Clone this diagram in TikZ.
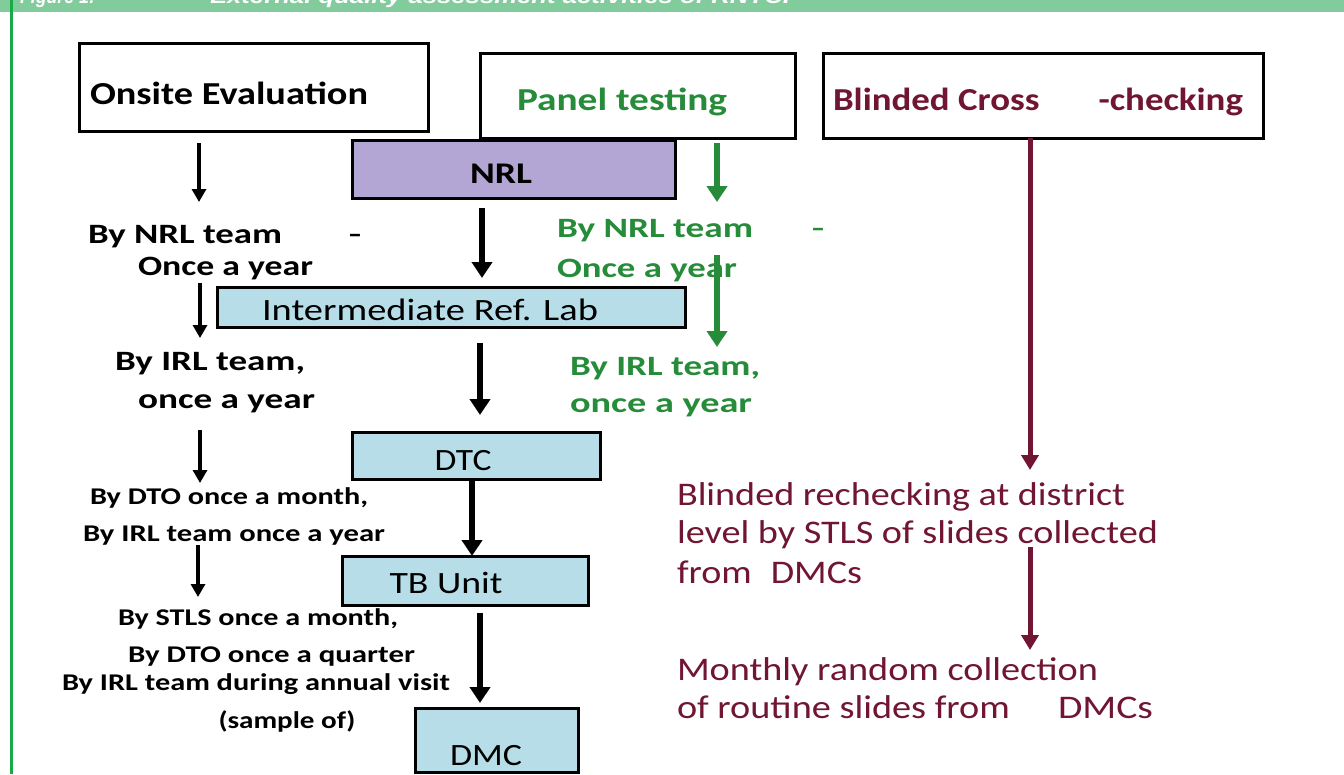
\documentclass[tikz,border=0pt]{standalone}
\usepackage{fontspec}
\usepackage{graphicx}
\setmainfont{Carlito}
\newfontfamily\hdrfont{Liberation Sans}
\usetikzlibrary{arrows.meta}
\definecolor{nrlpurple}{RGB}{180,166,212}
\definecolor{labblue}{RGB}{183,222,232}
\definecolor{ptgreen}{RGB}{38,140,58}
\definecolor{bcred}{RGB}{112,22,50}
\definecolor{bargreen}{RGB}{130,203,156}
\definecolor{edgegreen}{RGB}{25,170,70}
\newsavebox\fitbox
\newcommand\fitto[2]{\sbox\fitbox{#2}\pgfmathsetmacro\fitr{#1/\the\wd\fitbox}\scalebox{\fitr}[1]{\usebox\fitbox}}
\begin{document}
\begin{tikzpicture}[x={(1pt,0)}, y={(0,-1pt)},
  every node/.style={inner sep=0pt, outer sep=0pt},
  boxframe/.style={draw=black, line width=3pt},
  hdr/.style={font=\hdrfont\bfseries\itshape\fontsize{20}{22}\selectfont, text=white},
  titlef/.style={font=\bfseries\fontsize{32}{36}\selectfont},
  nrlf/.style={font=\bfseries\fontsize{30}{34}\selectfont},
  labf/.style={font=\fontsize{31}{34}\selectfont},
  bigl/.style={font=\bfseries\fontsize{28}{32}\selectfont},
  smalll/.style={font=\bfseries\fontsize{24}{28}\selectfont},
  grnl/.style={font=\bfseries\fontsize{28}{32}\selectfont, text=ptgreen},
  redl/.style={font=\fontsize{33}{36}\selectfont, text=bcred},
  lftarr/.style={line width=4.5pt, -{Triangle[width=14pt,length=13pt]}},
  ctrarr/.style={line width=6pt, -{Triangle[width=20pt,length=16pt]}},
  grnarr/.style={draw=ptgreen, line width=6pt, -{Triangle[width=20pt,length=16pt]}},
  redarr/.style={draw=bcred, line width=5pt, -{Triangle[width=17pt,length=15pt]}}]
\useasboundingbox (0,0) rectangle (1344,774);
\fill[white] (0,0) rectangle (1344,774);
% header bar
\fill[bargreen] (0,0) rectangle (1344,12);
\begin{scope}
\clip (0,0) rectangle (1344,12);
\node[hdr, anchor=base west] (fig) at (20,3.5) {\fitto{75}{Figure 1:}};
\node[hdr, anchor=base west] (figtitle) at (210,3.5) {\fitto{590}{External quality assessment activities of RNTCP}};
\end{scope}
\draw[edgegreen, line width=2.5pt] (11.5,0) -- (11.5,774);
% boxes
\node[boxframe, minimum width=349pt, minimum height=88pt] (onsite) at (253.5,87) {};
\node[boxframe, minimum width=315pt, minimum height=85pt] (panel) at (637.5,95.5) {};
\node[boxframe, minimum width=440pt, minimum height=85pt] (blind) at (1043,95.5) {};
\node[boxframe, fill=nrlpurple, minimum width=323pt, minimum height=58pt] (nrl) at (513.5,169) {};
\node[boxframe, fill=labblue, minimum width=468pt, minimum height=40pt] (irl) at (451,307) {};
\node[boxframe, fill=labblue, minimum width=248pt, minimum height=47pt] (dtc) at (476,455.5) {};
\node[boxframe, fill=labblue, minimum width=246pt, minimum height=49pt] (tbu) at (465,580.5) {};
\node[boxframe, fill=labblue, minimum width=163pt, minimum height=64pt] (dmc) at (496.5,740) {};
% box texts
\node[titlef, anchor=base west] (onsitet) at (90,104) {\fitto{278}{Onsite Evaluation}};
\node[titlef, text=ptgreen, anchor=base] (panelt) at (622,110) {\fitto{210}{Panel testing}};
\node[titlef, text=bcred, anchor=base west] (blindt) at (833,110) {\fitto{410}{Blinded Cross\hspace{1.6em}-checking}};
\node[nrlf, anchor=base] (nrlt) at (501,183) {\fitto{62}{NRL}};
\node[labf, anchor=base] (irlt) at (430,320) {\fitto{336}{Intermediate Ref. Lab}};
\node[labf, anchor=base] (dtct) at (463,470) {\fitto{57}{DTC}};
\node[labf, anchor=base] (tbut) at (446,593) {\fitto{113}{TB Unit}};
\node[labf, anchor=base] (dmct) at (486,765) {\fitto{72}{DMC}};
% left labels
\node[bigl, anchor=base] (l1) at (225,243) {\makebox[274pt][l]{\fitto{194}{By NRL team}\hfill --}};
\node[bigl, anchor=base] (l2) at (225.5,275) {\fitto{175}{Once a year}};
\node[bigl, anchor=base] (l3) at (210,370) {\fitto{190}{By IRL team,}};
\node[bigl, anchor=base] (l4) at (226.5,408) {\fitto{177}{once a year}};
\node[smalll, anchor=base] (l5) at (229,504) {\fitto{278}{By DTO once a month,}};
\node[smalll, anchor=base] (l6) at (234,541) {\fitto{302}{By IRL team once a year}};
\node[smalll, anchor=base] (l7) at (258,625) {\fitto{280}{By STLS once a month,}};
\node[smalll, anchor=base] (l8) at (271.5,662) {\fitto{287}{By DTO once a quarter}};
\node[smalll, anchor=base] (l9) at (256,690) {\fitto{388}{By IRL team during annual visit}};
\node[smalll, anchor=base] (l10) at (287,728) {\fitto{137}{(sample of)}};
% green labels
\node[grnl, anchor=base west] (g1) at (557,237) {\makebox[268pt][l]{\fitto{196}{By NRL team}\hfill --}};
\node[grnl, anchor=base west] (g2) at (557,277) {\fitto{180}{Once a year}};
\node[grnl, anchor=base west] (g3) at (570,375) {\fitto{190}{By IRL team,}};
\node[grnl, anchor=base west] (g4) at (570,412) {\fitto{182}{once a year}};
% red labels
\node[redl, anchor=base west] (r1) at (677,505) {\fitto{448}{Blinded rechecking at district}};
\node[redl, anchor=base west] (r2) at (677,543) {\fitto{481}{level by STLS of slides collected}};
\node[redl, anchor=base west] (r3) at (677,583) {\fitto{185}{from\hspace{0.5em}DMCs}};
\node[redl, anchor=base west] (r4) at (677,680) {\fitto{421}{Monthly random collection}};
\node[redl, anchor=base west] (r5) at (677,718) {\fitto{333}{of routine slides from}};
\node[redl, anchor=base west] (r5b) at (1058,718) {\fitto{95}{DMCs}};
% arrow end coordinates
\coordinate (a1e) at (199,202);
\coordinate (a2s) at (200,283); \coordinate (a2e) at (200,338);
\coordinate (a3s) at (200,430); \coordinate (a3e) at (200,483);
\coordinate (a4s) at (198,545); \coordinate (a4e) at (198,597);
\coordinate (b1e) at (482,278);
\coordinate (b2e) at (480,415);
\coordinate (b3x) at (472,0);
\coordinate (b4x) at (480,0);
\coordinate (gAe) at (717,202);
\coordinate (gBs) at (717,255); \coordinate (gBe) at (717,347);
\coordinate (rAe) at (1030,470);
\coordinate (rBs) at (1030,547); \coordinate (rBe) at (1030,650);
% arrows
\draw[lftarr, shorten <=12pt] (onsite.south -| a1e) -- (a1e);
\draw[lftarr] (a2s) -- (a2e);
\draw[lftarr] (a3s) -- (a3e);
\draw[lftarr] (a4s) -- (a4e);
\draw[ctrarr, shorten <=10pt] (nrl.south -| b1e) -- (b1e);
\draw[ctrarr, shorten <=16pt] (irl.south -| b2e) -- (b2e);
\draw[ctrarr] (dtc.south -| b3x) -- (tbu.north -| b3x);
\draw[ctrarr, shorten <=8pt, shorten >=5pt] (tbu.south -| b4x) -- (dmc.north -| b4x);
\draw[grnarr, shorten <=5pt] (panel.south -| gAe) -- (gAe);
\draw[grnarr] (gBs) -- (gBe);
\draw[redarr] (blind.south -| rAe) -- (rAe);
\draw[redarr] (rBs) -- (rBe);
\end{tikzpicture}
\end{document}
